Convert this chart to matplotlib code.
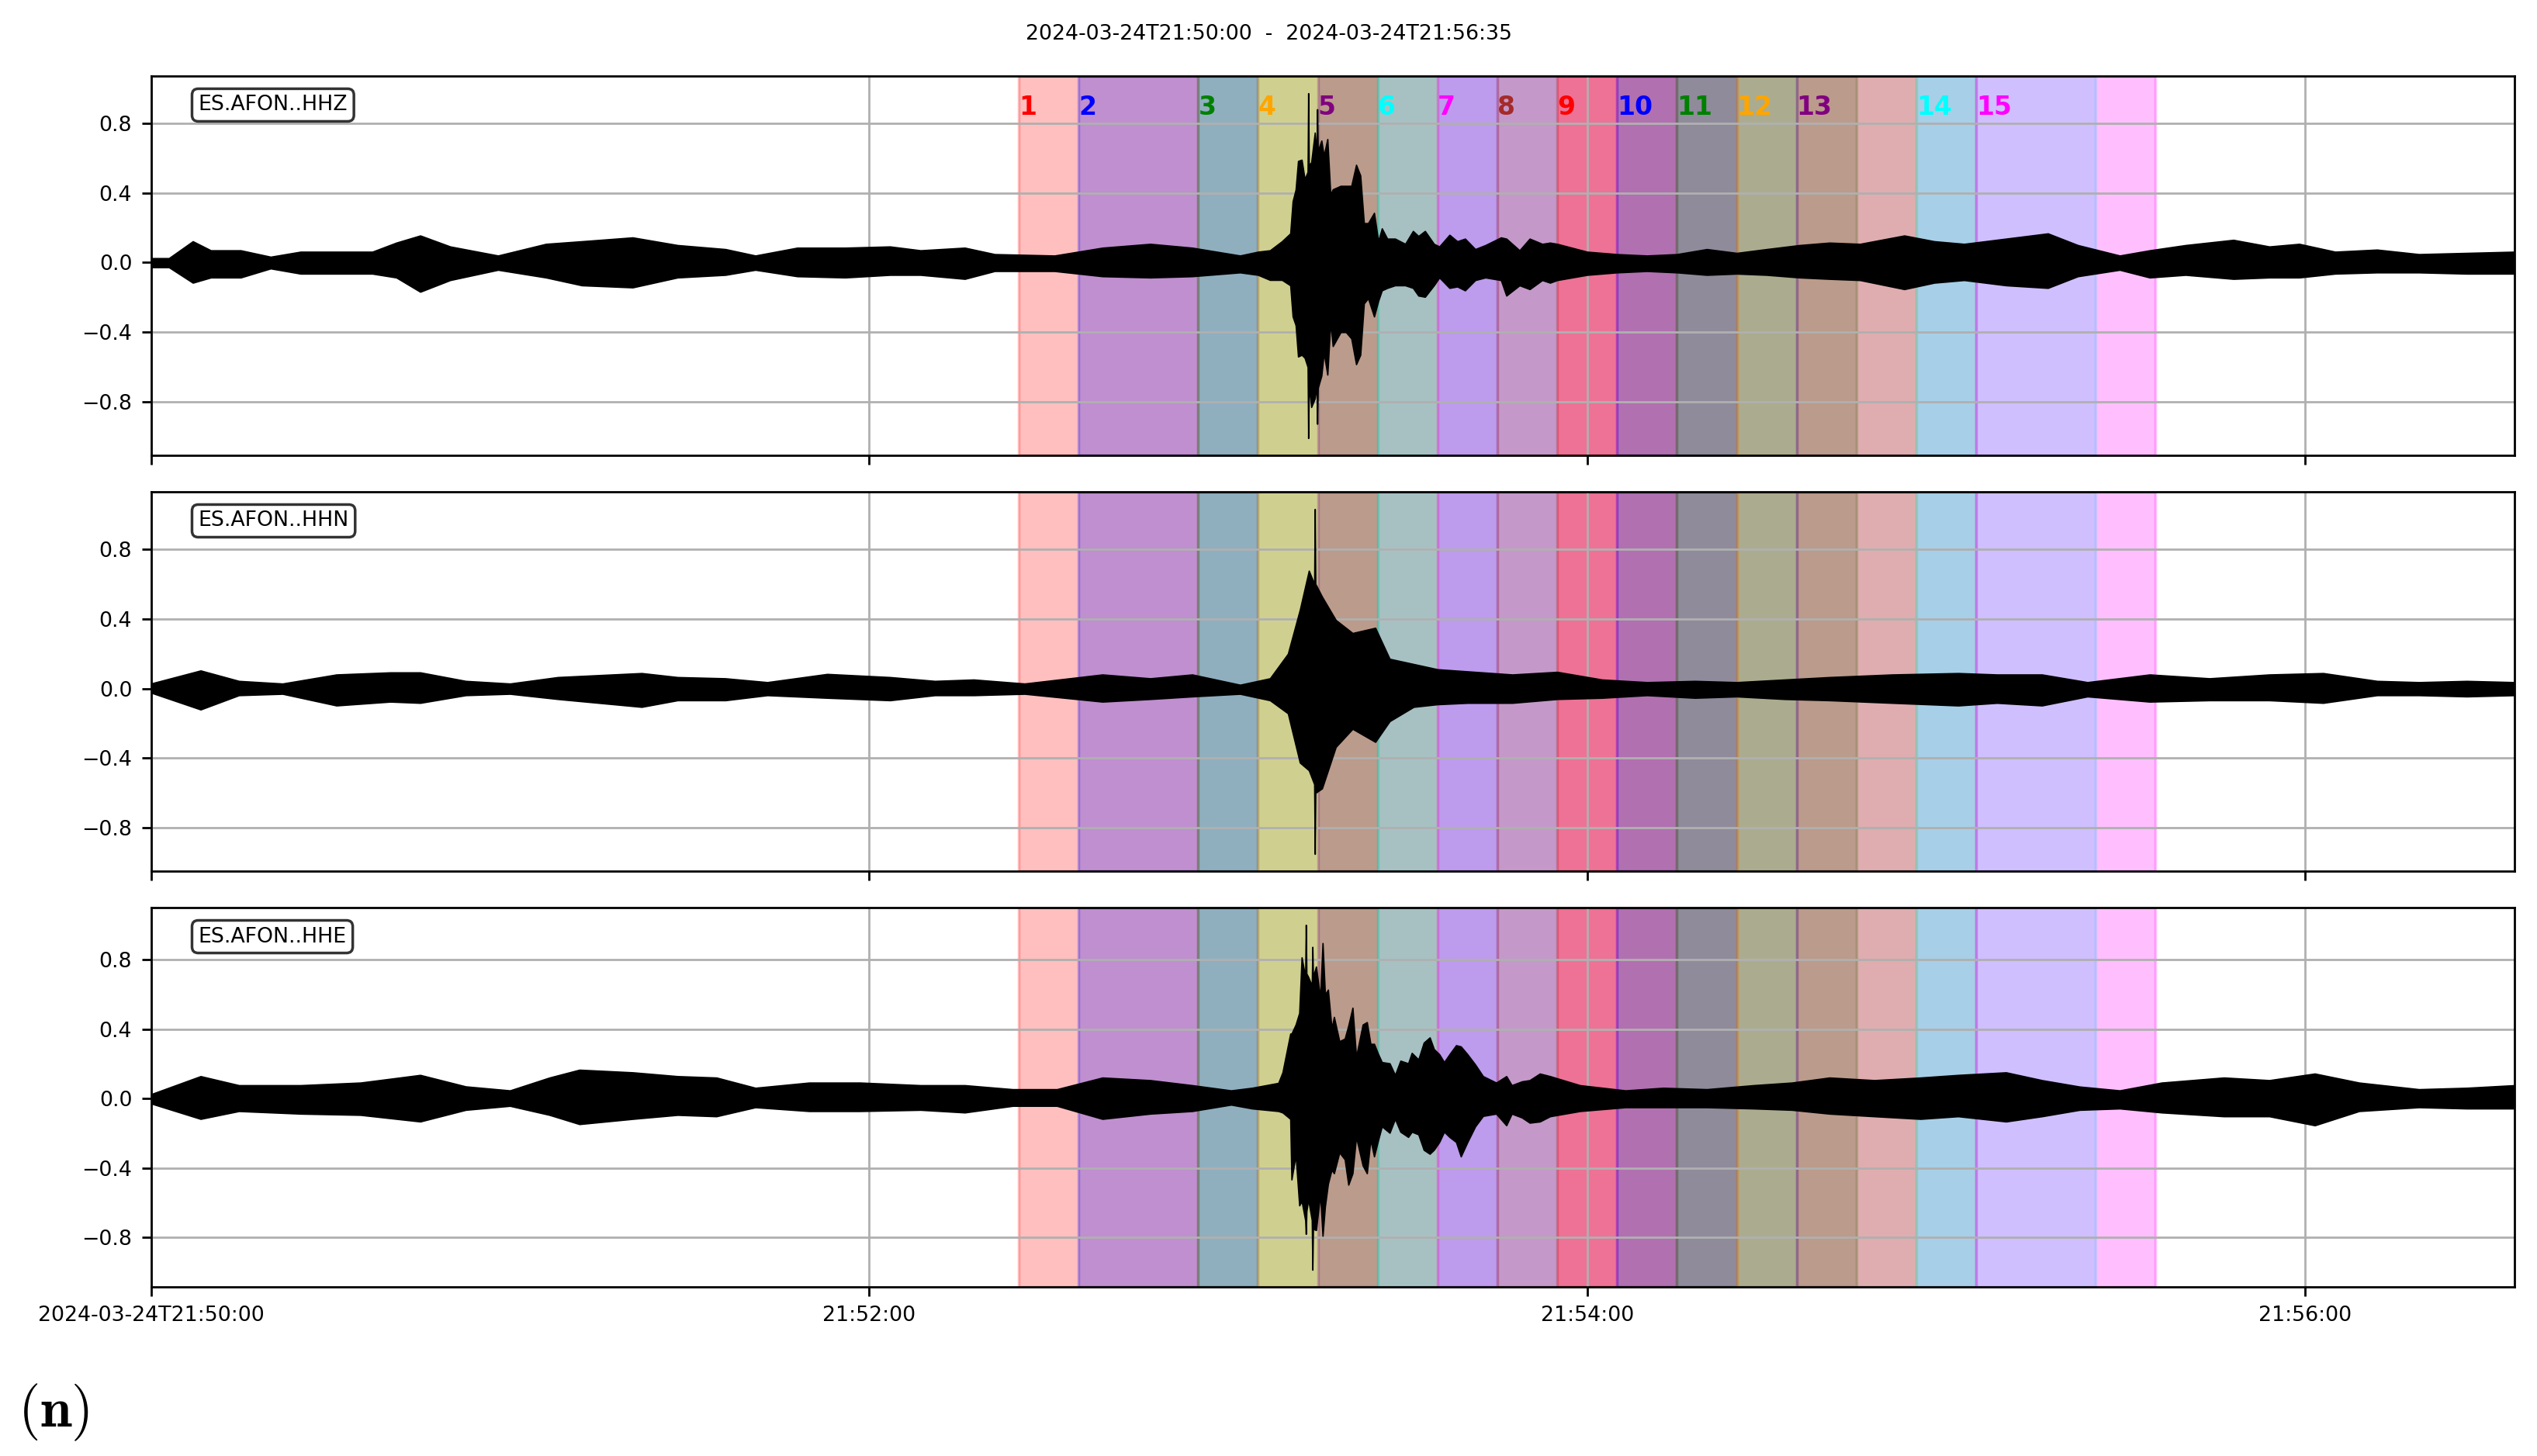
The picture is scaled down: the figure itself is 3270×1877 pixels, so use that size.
import numpy as np
import matplotlib
matplotlib.use("Agg")
import matplotlib.pyplot as plt
from matplotlib import rcParams

rcParams['font.family'] = 'DejaVu Sans'
rcParams['font.size'] = 7.7
rcParams['mathtext.fontset'] = 'cm'

# seconds after 2024-03-24T21:50:00
t_end = 395
tick_pos = [0, 120, 240, 360]
tick_labels = ["2024-03-24T21:50:00", "21:52:00", "21:54:00", "21:56:00"]
title = "2024-03-24T21:50:00  -  2024-03-24T21:56:35"

win_start = [145, 155, 175, 185, 195, 205, 215, 225, 235, 245, 255, 265, 275, 295, 305]
win_end = [175, 185, 205, 215, 225, 235, 245, 255, 265, 275, 285, 295, 305, 325, 335]
win_colors = ['red', 'blue', 'green', 'orange', 'purple', 'cyan', 'magenta', 'brown']

# --- HHZ envelope (max / min) ---
z_t = [0, 3, 7, 10, 15, 20, 25, 31, 37, 41,
       45, 50, 58, 66, 72, 80.5, 88, 96, 101, 108,
       116, 123.5, 128.6, 136, 141, 151, 159, 167, 174, 182,
       185, 187, 189, 190.4, 190.8, 191.3, 191.7, 192.3, 192.8, 193.3,
       193.4, 193.5, 193.9, 194.5, 194.8, 194.9, 195.0, 195.6, 196.0, 196.6,
       197.1, 197.5, 198.8, 199.7, 200.6, 201.4, 202.1, 202.7, 203.4, 204.4,
       205.1, 205.7, 206.6, 207.9, 209.6, 210.9, 211.8, 212.9, 214.4, 215.3,
       217.0, 218.3, 219.6, 221.3, 223.0, 225.6, 226.5, 228.7, 230.4, 232.5,
       233.8, 235, 240, 245, 250, 255, 260, 265, 270, 275.5,
       280.5, 285.6, 293, 298, 303, 310, 317, 322, 329, 334,
       340, 348, 354, 359, 365, 372, 379, 387, 395]
z_up = [0.025, 0.025, 0.122, 0.070, 0.070, 0.033, 0.062, 0.062, 0.062, 0.114,
        0.155, 0.092, 0.040, 0.107, 0.122, 0.144, 0.100, 0.077, 0.040, 0.085,
        0.085, 0.092, 0.070, 0.085, 0.048, 0.040, 0.085, 0.107, 0.085, 0.040,
        0.062, 0.070, 0.122, 0.167, 0.352, 0.419, 0.583, 0.590, 0.479, 0.520,
        0.972, 0.560, 0.575, 0.746, 0.620, 0.880, 0.640, 0.700, 0.613, 0.709,
        0.390, 0.420, 0.440, 0.440, 0.440, 0.561, 0.500, 0.226, 0.226, 0.285,
        0.122, 0.196, 0.137, 0.137, 0.107, 0.181, 0.152, 0.181, 0.107, 0.092,
        0.159, 0.122, 0.137, 0.077, 0.100, 0.144, 0.137, 0.070, 0.137, 0.107,
        0.114, 0.107, 0.062, 0.048, 0.040, 0.048, 0.077, 0.055, 0.077, 0.100,
        0.114, 0.107, 0.155, 0.122, 0.107, 0.137, 0.167, 0.100, 0.040, 0.070,
        0.100, 0.130, 0.092, 0.107, 0.062, 0.074, 0.048, 0.055, 0.062]
z_lo = [-0.027, -0.027, -0.116, -0.086, -0.086, -0.034, -0.064, -0.064, -0.064, -0.086,
        -0.168, -0.101, -0.042, -0.086, -0.131, -0.143, -0.086, -0.071, -0.042, -0.079,
        -0.086, -0.071, -0.071, -0.094, -0.049, -0.049, -0.079, -0.086, -0.079, -0.057,
        -0.071, -0.100, -0.100, -0.131, -0.310, -0.360, -0.540, -0.530, -0.547, -0.600,
        -1.008, -0.700, -0.830, -0.780, -0.700, -0.926, -0.720, -0.650, -0.517, -0.644,
        -0.340, -0.480, -0.400, -0.400, -0.436, -0.584, -0.530, -0.235, -0.205, -0.310,
        -0.220, -0.160, -0.146, -0.131, -0.131, -0.146, -0.190, -0.197, -0.131, -0.086,
        -0.146, -0.138, -0.160, -0.101, -0.086, -0.101, -0.190, -0.131, -0.153, -0.101,
        -0.116, -0.101, -0.071, -0.057, -0.049, -0.057, -0.071, -0.064, -0.071, -0.086,
        -0.094, -0.101, -0.153, -0.116, -0.101, -0.131, -0.146, -0.079, -0.042, -0.086,
        -0.071, -0.094, -0.086, -0.086, -0.064, -0.057, -0.057, -0.064, -0.064]

# --- HHN ---
n_t = [0, 8.3, 14.7, 22, 31, 40, 45, 52.6, 60, 68,
       82, 88, 96, 103, 113, 123.5, 131, 137.5, 146, 159,
       167, 174, 182, 187, 190, 192, 193.5, 194.4, 194.5, 194.6,
       195.7, 198, 200.8, 204.6, 207, 211, 215, 220, 227.5, 235,
       242.5, 250, 258, 265, 273, 280.5, 291, 302, 308.5, 316,
       323.6, 334, 344, 354, 363, 372, 379, 387, 395]
n_up = [0.028, 0.103, 0.043, 0.028, 0.080, 0.092, 0.092, 0.043, 0.028, 0.065,
        0.088, 0.065, 0.058, 0.036, 0.083, 0.065, 0.043, 0.051, 0.028, 0.080,
        0.058, 0.080, 0.021, 0.058, 0.199, 0.452, 0.676, 0.600, 1.030, 0.600,
        0.527, 0.393, 0.318, 0.348, 0.170, 0.140, 0.110, 0.098, 0.080, 0.095,
        0.051, 0.036, 0.043, 0.036, 0.051, 0.065, 0.080, 0.088, 0.080, 0.080,
        0.036, 0.080, 0.058, 0.080, 0.088, 0.043, 0.036, 0.043, 0.036]
n_lo = [-0.024, -0.121, -0.039, -0.031, -0.098, -0.076, -0.083, -0.039, -0.031, -0.061,
        -0.106, -0.068, -0.068, -0.039, -0.054, -0.068, -0.039, -0.039, -0.031, -0.076,
        -0.061, -0.046, -0.031, -0.068, -0.143, -0.426, -0.470, -0.550, -0.950, -0.600,
        -0.574, -0.336, -0.232, -0.307, -0.188, -0.106, -0.091, -0.083, -0.083, -0.061,
        -0.054, -0.039, -0.054, -0.046, -0.061, -0.068, -0.083, -0.098, -0.083, -0.098,
        -0.046, -0.076, -0.068, -0.068, -0.083, -0.039, -0.039, -0.046, -0.039]

# --- HHE ---
e_t = [0, 8.3, 14.7, 25, 35, 45, 52.6, 60, 66.6, 71.6,
       80.5, 88, 94.5, 101, 110, 118.5, 128.6, 136, 144, 151.4,
       159, 167, 174, 180.5, 184.0, 188.4, 189.1, 190.4, 190.6, 191.3,
       191.9, 192.3, 192.9, 193.0, 193.1, 193.4, 194.0, 194.1, 194.2, 194.7,
       195.4, 195.8, 196.2, 196.7, 197.3, 197.7, 198.6, 199.5, 200.1, 200.8,
       201.4, 202.5, 203.2, 203.8, 204.4, 205.1, 205.7, 207.0, 207.9, 208.8,
       210.1, 210.7, 211.8, 212.7, 213.7, 214.4, 215.3, 216.1, 217.0, 218.1,
       218.9, 220.0, 221.3, 222.6, 224.8, 226.5, 227.4, 229.1, 230.4, 232.1,
       233.8, 238.8, 246.4, 252.7, 260, 267.8, 274.2, 280.5, 288, 295.7,
       302, 310, 316, 322.3, 329, 336, 346.4, 354, 361.6, 369,
       379, 387, 395]
e_up = [0.025, 0.129, 0.077, 0.077, 0.092, 0.136, 0.070, 0.047, 0.121, 0.166,
        0.151, 0.129, 0.121, 0.062, 0.092, 0.092, 0.077, 0.077, 0.054, 0.054,
        0.121, 0.106, 0.077, 0.047, 0.062, 0.090, 0.151, 0.374, 0.374, 0.426,
        0.493, 0.813, 0.700, 1.000, 0.720, 0.700, 0.650, 0.873, 0.700, 0.760,
        0.580, 0.895, 0.600, 0.627, 0.404, 0.470, 0.330, 0.345, 0.420, 0.523,
        0.240, 0.426, 0.440, 0.315, 0.315, 0.255, 0.210, 0.203, 0.136, 0.218,
        0.203, 0.263, 0.225, 0.322, 0.352, 0.285, 0.255, 0.210, 0.255, 0.307,
        0.300, 0.255, 0.196, 0.129, 0.092, 0.129, 0.077, 0.099, 0.106, 0.144,
        0.129, 0.077, 0.047, 0.062, 0.054, 0.077, 0.092, 0.121, 0.106, 0.121,
        0.136, 0.151, 0.106, 0.069, 0.047, 0.092, 0.121, 0.106, 0.144, 0.092,
        0.054, 0.062, 0.077]
e_lo = [-0.028, -0.117, -0.072, -0.087, -0.094, -0.132, -0.065, -0.042, -0.094, -0.147,
        -0.117, -0.094, -0.102, -0.050, -0.072, -0.072, -0.065, -0.080, -0.042, -0.042,
        -0.117, -0.087, -0.072, -0.035, -0.057, -0.072, -0.080, -0.117, -0.466, -0.325,
        -0.615, -0.590, -0.700, -0.779, -0.650, -0.580, -0.700, -0.985, -0.750, -0.757,
        -0.550, -0.790, -0.620, -0.490, -0.410, -0.430, -0.310, -0.350, -0.496, -0.430,
        -0.220, -0.385, -0.430, -0.236, -0.333, -0.236, -0.160, -0.197, -0.117, -0.191,
        -0.221, -0.191, -0.206, -0.295, -0.318, -0.295, -0.250, -0.191, -0.221, -0.250,
        -0.333, -0.250, -0.160, -0.100, -0.087, -0.154, -0.087, -0.109, -0.139, -0.132,
        -0.102, -0.072, -0.050, -0.050, -0.050, -0.057, -0.065, -0.087, -0.102, -0.117,
        -0.102, -0.132, -0.102, -0.065, -0.057, -0.080, -0.102, -0.102, -0.154, -0.072,
        -0.050, -0.057, -0.057]

traces = [
    ("ES.AFON..HHZ", z_t, z_up, z_lo),
    ("ES.AFON..HHN", n_t, n_up, n_lo),
    ("ES.AFON..HHE", e_t, e_up, e_lo),
]

fig, axes = plt.subplots(3, 1, figsize=(13.08, 7.508), dpi=250, sharex=True)
fig.subplots_adjust(left=0.0595, right=0.9912, top=0.9478, bottom=0.1161, hspace=0.0962)

for k, (ax, (name, t, up, lo)) in enumerate(zip(axes, traces)):
    for i in range(len(win_start)):
        ax.axvspan(win_start[i], win_end[i], color=win_colors[i % len(win_colors)], alpha=0.25)
    ax.fill_between(t, lo, up, facecolor='k', edgecolor='k', linewidth=0.5, zorder=3)

    hi = max(up)
    low = min(lo)
    pad = 0.05 * (hi - low)
    ax.set_ylim(low - pad, hi + pad)
    ax.set_xlim(0, t_end)
    ax.set_yticks([-0.8, -0.4, 0.0, 0.4, 0.8])
    ax.grid(True)

    ax.text(0.02, 0.95, name, transform=ax.transAxes, va='top', ha='left',
            bbox=dict(boxstyle='round', fc='w', alpha=0.8), zorder=5)

    if k == 0:
        for i in range(len(win_start)):
            ax.text(win_start[i], 0.95, str(i + 1), transform=ax.get_xaxis_transform(),
                    color=win_colors[i % len(win_colors)], fontweight='bold',
                    fontsize=9.5, va='top', ha='left', zorder=4)

axes[-1].set_xticks(tick_pos)
axes[-1].set_xticklabels(tick_labels)

fig.suptitle(title, y=0.9835, va='top', fontsize=7.7)
fig.text(0.007, 0.0202, r'$\mathbf{(n)}$', fontsize=21, va='baseline', ha='left')

fig.savefig("out.png", dpi=250)
